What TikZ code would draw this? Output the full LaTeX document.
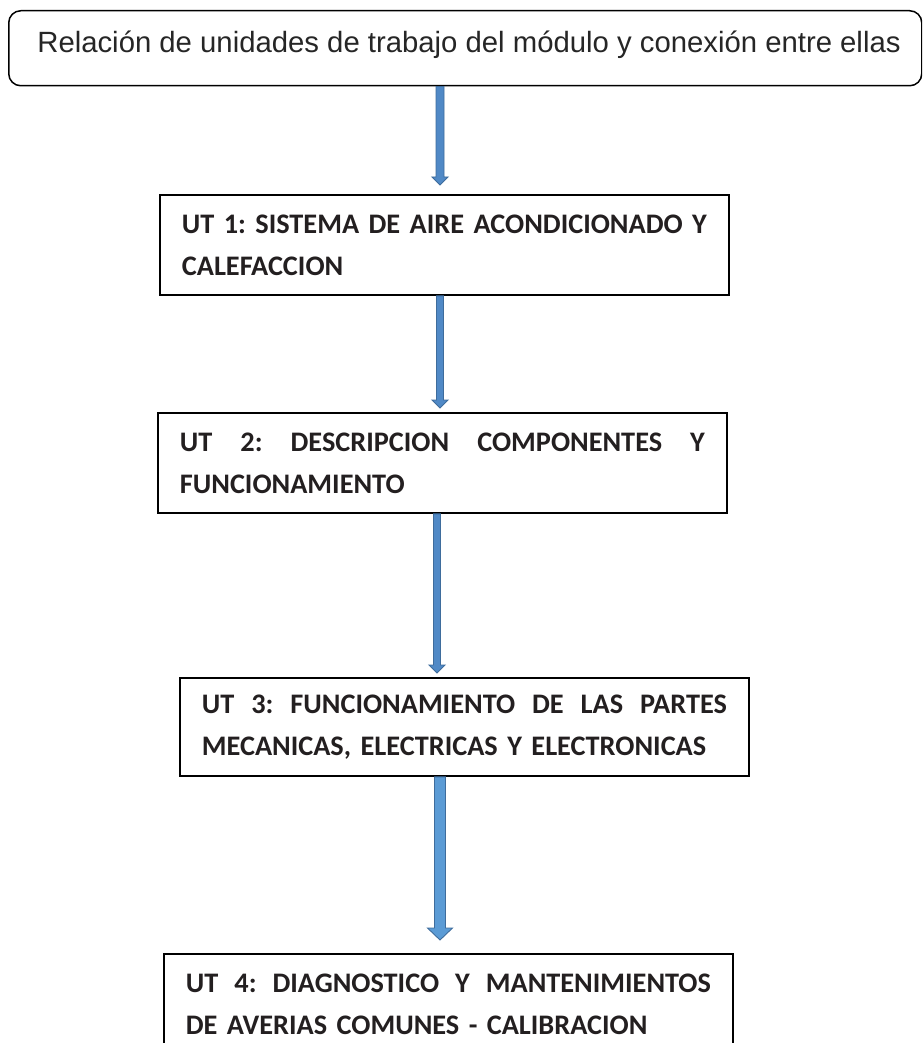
\documentclass[tikz,border=0pt]{standalone}
\usepackage{fontspec}
\setmainfont{Carlito}
\newfontfamily\arialf{Liberation Sans}
\usetikzlibrary{calc}
\definecolor{arrfill}{HTML}{5089C6}
\definecolor{arrfillb}{HTML}{5B9BD5}
\definecolor{arredge}{HTML}{3E6C9C}
\definecolor{txt}{HTML}{231F20}
\definecolor{toptxt}{HTML}{262626}
\tikzset{
  utbox/.style={draw=black, line width=1.8pt, rectangle, anchor=north west,
    text width=525pt, align=left, inner xsep=22pt, inner ysep=0pt,
    minimum height=100pt, font=\frenchspacing\bfseries\fontsize{28.3}{42}\selectfont, text=txt},
  topbox/.style={draw=black, line width=1.5pt, rounded corners=12pt,
    minimum width=913pt, minimum height=75pt, anchor=north west, inner sep=0pt},
  toplabel/.style={anchor=base, inner sep=0pt, text=toptxt,
    font=\arialf\fontsize{29.3}{34}\selectfont},
  blockarr/.style={fill=arrfill, draw=arredge, line width=0.9pt, line join=miter},
}
% #1 from, #2 to, #3 x, #4 shaft half width, #5 head half width, #6 head length, #7 gap before target
\newcommand\blockarrow[8][]{%
  \filldraw[blockarr,#1] let \p1=(#2), \p2=(#3) in
    ({#4pt-#5pt},\y1) -- ({#4pt+#5pt},\y1)
    -- ({#4pt+#5pt},{\y2+#8pt+#7pt}) -- ({#4pt+#6pt},{\y2+#8pt+#7pt})
    -- ({#4pt},{\y2+#8pt})
    -- ({#4pt-#6pt},{\y2+#8pt+#7pt}) -- ({#4pt-#5pt},{\y2+#8pt+#7pt}) -- cycle;}
\begin{document}
\begin{tikzpicture}[x=1pt,y=-1pt]
\useasboundingbox (0,0) rectangle (922,1043);
\clip (0,0) rectangle (922,1043);
\fill[white] (0,0) rectangle (922,1043);

\node[topbox] (top) at (8,10) {};
\node[toplabel] (toptext) at (469,53) {Relación de unidades de trabajo del módulo y conexión entre ellas};

\node[utbox] (ut1) at (159,194) {\mbox{UT 1: SISTEMA DE AIRE ACONDICIONADO Y}\\CALEFACCION};
\node[utbox] (ut2) at (157,412) {\hbox to \linewidth{UT\hfill 2:\hfill DESCRIPCION\hfill COMPONENTES\hfill Y}\\FUNCIONAMIENTO};
\node[utbox, minimum height=98pt] (ut3) at (179,677) {\hbox to \linewidth{UT\hfill 3:\hfill FUNCIONAMIENTO\hfill DE\hfill LAS\hfill PARTES}\\MECANICAS, ELECTRICAS Y ELECTRONICAS};
\node[utbox] (ut4) at (163,953) {\hbox to \linewidth{UT\hfill 4:\hfill DIAGNOSTICO\hfill Y\hfill MANTENIMIENTOS}\\DE AVERIAS COMUNES - CALIBRACION};

\blockarrow{top.south}{ut1.north}{440}{4}{8}{8}{9}
\blockarrow{ut1.south}{ut2.north}{440}{3.5}{8}{8}{4}
\blockarrow{ut2.south}{ut3.north}{437}{3.5}{8}{8}{4}
\blockarrow[fill=arrfillb]{ut3.south}{ut4.north}{440}{5.5}{12.5}{12}{13}
\end{tikzpicture}
\end{document}
